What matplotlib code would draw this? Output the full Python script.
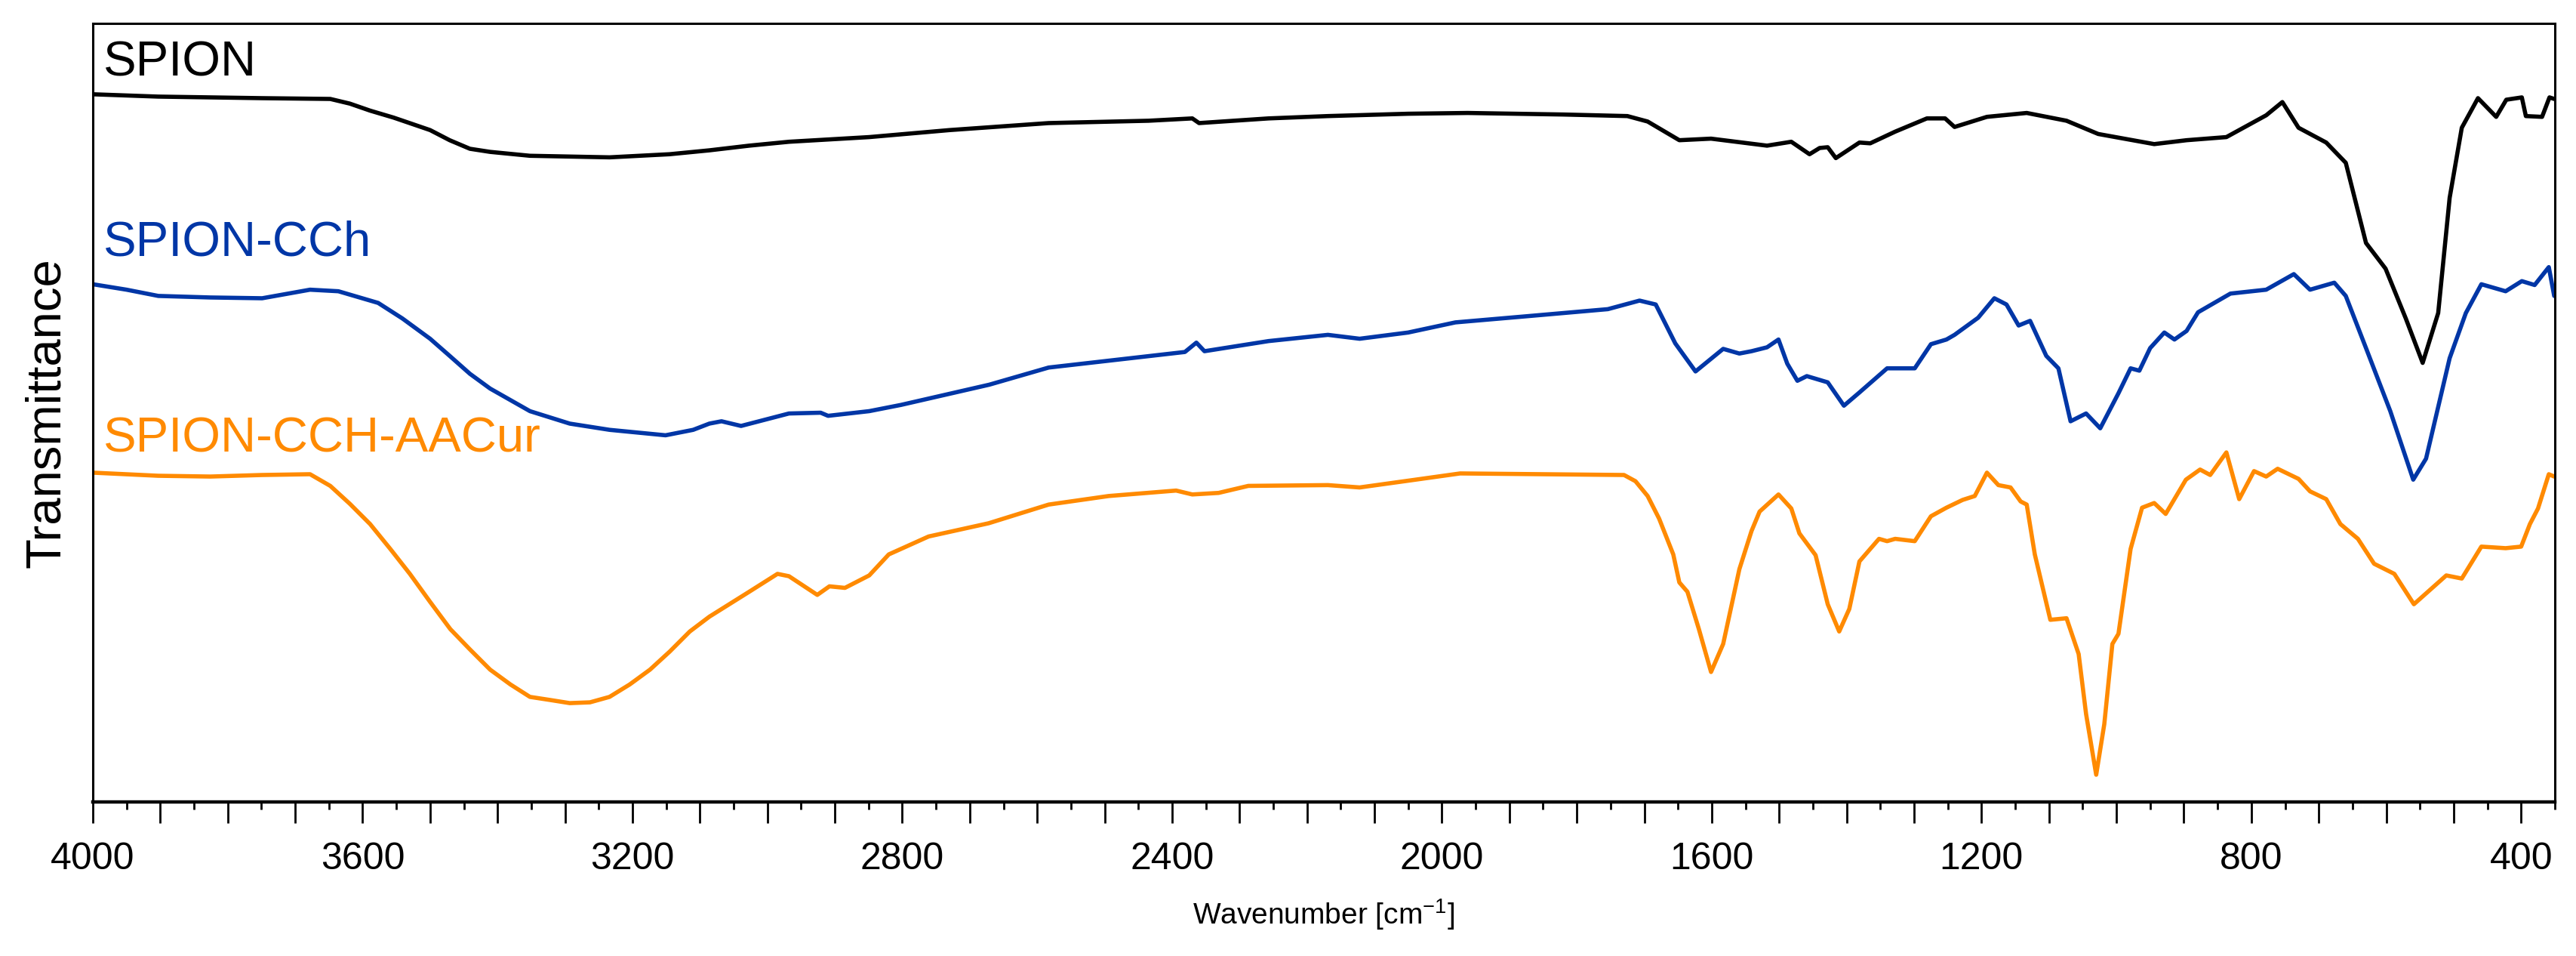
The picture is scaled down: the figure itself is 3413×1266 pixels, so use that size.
import numpy as np
import matplotlib
matplotlib.use("Agg")
import matplotlib.pyplot as plt
from matplotlib.ticker import MultipleLocator, FuncFormatter

plt.rcParams['font.family'] = ['Liberation Sans', 'DejaVu Sans']
plt.rcParams['mathtext.default'] = 'regular'

# FTIR spectra, transmittance in arbitrary units (offset curves)
spion_wn = [4000, 3903, 3826, 3749, 3648, 3619, 3589, 3554, 3500, 3471, 3441, 3411, 3352,
            3234, 3145, 3086, 3027,
            2968, 2849, 2730, 2583, 2435, 2370, 2360, 2257, 2169, 2050, 1962, 1820, 1725,
            1695, 1648, 1601, 1518, 1482, 1455, 1440, 1428, 1416, 1381, 1365, 1328, 1281,
            1254, 1240, 1192, 1133, 1074, 1027, 944, 896, 837, 778, 754, 730, 689, 660,
            630, 601, 571, 546, 523, 506, 488, 464, 437, 422, 399, 393, 369, 358, 351]
spion_t = [90.9, 90.6, 90.5, 90.4, 90.3, 89.7, 88.8, 87.9, 86.3, 85.0, 83.9, 83.5, 83.0,
           82.8, 83.2, 83.7, 84.3,
           84.8, 85.4, 86.3, 87.2, 87.5, 87.8, 87.2, 87.8, 88.1, 88.4, 88.5, 88.3, 88.1,
           87.4, 85.0, 85.2, 84.3, 84.8, 83.2, 84.0, 84.1, 82.7, 84.7, 84.6, 86.1, 87.8,
           87.8, 86.7, 88.0, 88.5, 87.5, 85.8, 84.5, 85.0, 85.4, 88.2, 89.9, 86.6, 84.7, 82.1,
           71.8, 68.5, 62.1, 56.4, 62.8, 77.6, 86.6, 90.4, 88.0, 90.2, 90.5, 88.1, 88.0, 90.5, 90.3]

cch_wn = [4000, 3950, 3903, 3826, 3749, 3678, 3636, 3577, 3541, 3500, 3471, 3441, 3411,
          3352, 3293, 3234, 3151, 3110,
          3086, 3068, 3039, 2968, 2921, 2910, 2849, 2802, 2671, 2583, 2381, 2364, 2352,
          2257, 2169, 2122, 2050, 1980, 1873, 1754, 1707, 1683, 1654, 1624, 1583, 1559,
          1541, 1518, 1501, 1488, 1473, 1459, 1428, 1404, 1381, 1340, 1299, 1275, 1252,
          1240, 1205, 1181, 1163, 1145, 1128, 1104, 1086, 1068, 1045, 1024, 997, 979, 966,
          950, 929, 914, 896, 879, 831, 778, 737, 713, 677, 660, 630, 594, 560, 541, 506,
          482, 459, 423, 399, 380, 359, 351]
cch_t = [66.5, 65.8, 65.0, 64.8, 64.7, 65.8, 65.6, 64.1, 62.1, 59.5, 57.3, 55.0, 53.1,
         50.2, 48.6, 47.8, 47.1, 47.8,
         48.6, 48.9, 48.3, 49.9, 50.0, 49.6, 50.2, 51.0, 53.6, 55.8, 57.8, 59.0, 57.9,
         59.2, 60.0, 59.5, 60.3, 61.6, 62.4, 63.3, 64.4, 63.9, 58.9, 55.3, 58.2, 57.6,
         57.9, 58.4, 59.4, 56.3, 54.1, 54.7, 53.9, 50.9, 52.6, 55.7, 55.7, 58.8, 59.4,
         60.0, 62.2, 64.7, 63.9, 61.2, 61.8, 57.3, 55.7, 48.9, 49.9, 48.0, 52.5, 55.7, 55.4,
         58.3, 60.3, 59.4, 60.5, 62.9, 65.3, 65.8, 67.8, 65.8, 66.7, 65.0, 58.3, 50.2, 41.4,
         44.1, 57.0, 62.8, 66.5, 65.6, 66.9, 66.4, 68.7, 65.0]

cur_wn = [4000, 3903, 3826, 3749, 3678, 3648, 3619, 3589, 3559, 3530, 3500, 3470, 3441,
          3411, 3381, 3352, 3322, 3293, 3263, 3234, 3204,
          3174, 3145, 3115, 3086, 3027, 2985, 2968, 2926, 2908, 2885, 2849, 2820, 2761, 2672,
          2583, 2494, 2394, 2370, 2331, 2287, 2169, 2122, 2039, 1973, 1730, 1713, 1695,
          1678, 1657, 1648, 1636, 1619, 1601, 1583, 1559, 1541, 1529, 1501, 1482, 1470,
          1446, 1428, 1411, 1396, 1381, 1352, 1340, 1328, 1299, 1275, 1252, 1228, 1210,
          1192, 1175, 1157, 1142, 1133, 1121, 1098, 1074, 1056, 1045, 1030, 1018, 1006,
          997, 979, 962, 944, 927, 897, 876, 861, 837, 818, 796, 778, 761, 730, 713, 689,
          668, 642, 618, 588, 559, 511, 488, 459, 423, 400, 387, 375, 359, 351]
cur_t = [42.3, 41.9, 41.8, 42.0, 42.1, 40.6, 38.3, 35.7, 32.5, 29.3, 25.7, 22.2, 19.6,
         17.0, 15.1, 13.5, 13.1, 12.7, 12.8, 13.5, 15.1,
         17.0, 19.3, 21.9, 23.8, 27.0, 29.3, 29.0, 26.6, 27.7, 27.5, 29.1, 31.8, 34.1, 35.8,
         38.2, 39.3, 40.0, 39.5, 39.7, 40.6, 40.7, 40.4, 41.4, 42.2, 42.0, 41.2, 39.3,
         36.4, 31.8, 28.2, 27.0, 22.2, 16.7, 20.3, 29.9, 34.8, 37.3, 39.5, 37.7, 34.5,
         31.7, 25.4, 21.9, 24.8, 30.9, 33.8, 33.5, 33.8, 33.5, 36.7, 37.8, 38.8, 39.3,
         42.3, 40.7, 40.4, 38.6, 38.2, 31.8, 23.4, 23.6, 19.0, 11.3, 3.5, 10.0, 20.3,
         21.6, 32.5, 37.8, 38.4, 37.0, 41.4, 42.7, 42.0, 44.9, 38.9, 42.5, 41.8, 42.8, 41.5, 39.9, 38.9,
         35.7, 33.8, 30.6, 29.3, 25.4, 29.1, 28.7, 32.8, 32.6, 32.8, 35.7, 37.7, 42.1, 41.8]

names = ['SPION', 'SPION-CCh', 'SPION-CCH-AACur']
colors = ['#000000', '#0036A6', '#FF8A00']
label_t = [93.3, 70.2, 45.0]

fig = plt.figure(figsize=(34.13, 12.66), dpi=100)
ax = fig.add_axes([0.03604, 0.1611, 0.95576, 0.8144])

series = [(spion_wn, spion_t), (cch_wn, cch_t), (cur_wn, cur_t)]
for (wn, t), name, c, lt in zip(series, names, colors, label_t):
    ax.plot(wn, t, color=c, lw=4.0, solid_joinstyle='round', solid_capstyle='round')
    ax.text(3984, lt, name, color=c, fontsize=47, va='baseline', ha='left')

ax.set_xlim(4000, 350)
ax.set_ylim(0, 100)
ax.set_yticks([])

ax.xaxis.set_major_locator(MultipleLocator(100))
ax.xaxis.set_minor_locator(MultipleLocator(50))
ax.xaxis.set_major_formatter(FuncFormatter(lambda v, p: f"{int(v)}" if int(round(v)) % 400 == 0 else ""))
ax.tick_params(axis='x', which='major', direction='out', length=20, width=2, labelsize=36, pad=18)
ax.tick_params(axis='x', which='minor', direction='out', length=7, width=2)

for s in ['top', 'left', 'right']:
    ax.spines[s].set_linewidth(2.2)
ax.spines['bottom'].set_linewidth(3.2)

ax.set_xlabel('Wavenumber [cm$^{-1}$]', fontsize=28, labelpad=20)
ax.set_ylabel('Transmittance', fontsize=47, labelpad=22)

fig.savefig('out.png', dpi=100)
